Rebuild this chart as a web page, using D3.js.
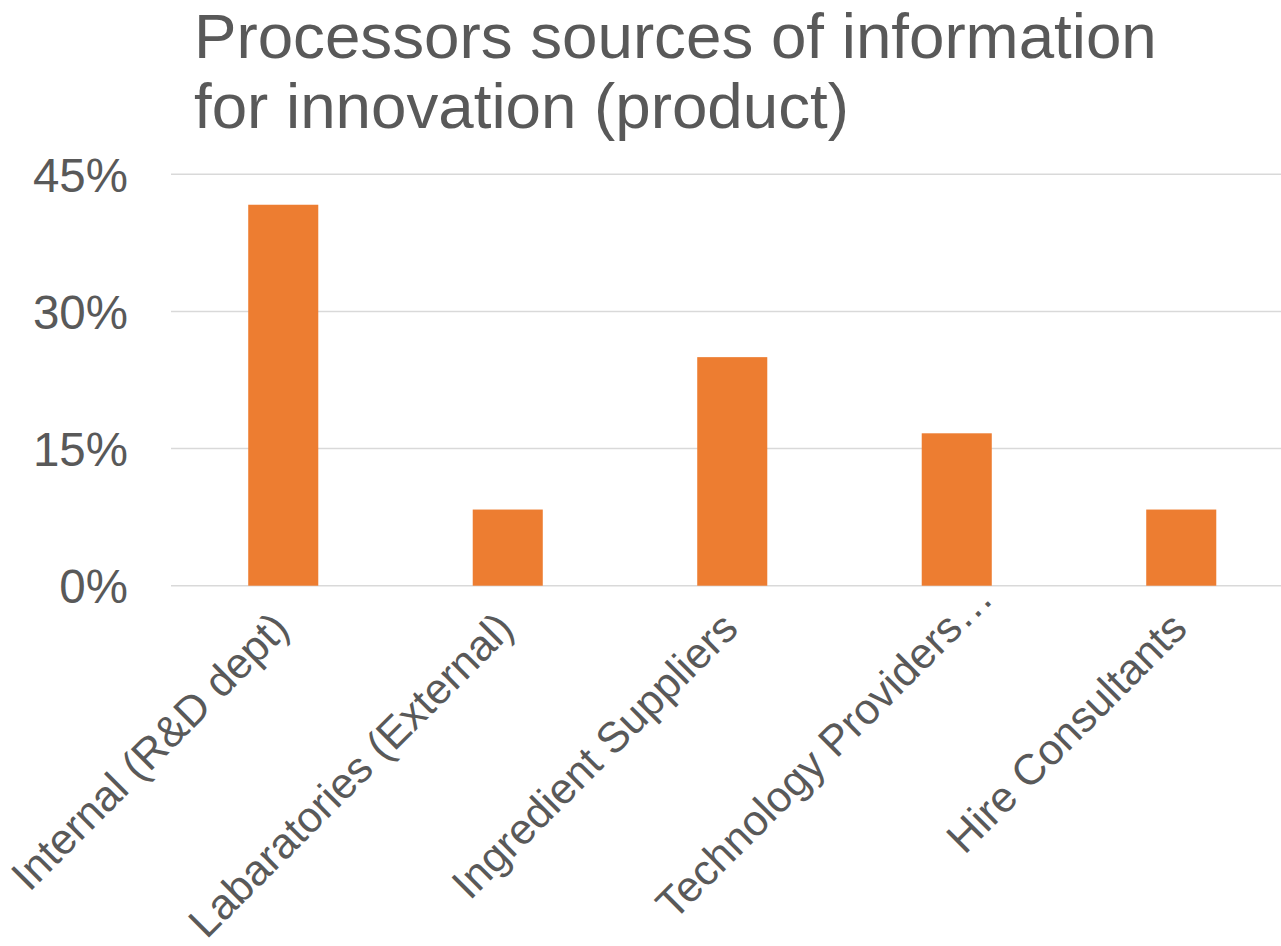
<!DOCTYPE html>
<html>
<head>
<meta charset="utf-8">
<script src="https://cdn.jsdelivr.net/npm/d3@7"></script>
<style>
  html, body { margin: 0; padding: 0; background: #ffffff; }
  svg { display: block; }
  text { font-family: "Liberation Sans", Arial, sans-serif; fill: #595959; }
</style>
</head>
<body>
<svg id="chart" width="1281" height="946"></svg>
<script>
// ---- data ----
const titleLines = ["Processors sources of information", "for innovation (product)"];
const categories = ["Internal (R&D dept)", "Labaratories (External)", "Ingredient Suppliers", "Technology Providers\u2026", "Hire Consultants"];
const values = [0.4167, 0.0833, 0.25, 0.1667, 0.0833];
const yTicks = [0, 0.15, 0.30, 0.45];

// ---- layout ----
const W = 1281, H = 946;
const plot = { left: 171, right: 1293.5, top: 174.3, bottom: 585.7 };
const svg = d3.select("#chart");

const x = d3.scaleBand().domain(categories).range([plot.left, plot.right])
  .paddingInner(0.688).paddingOuter(0.344);
const y = d3.scaleLinear().domain([0, 0.45]).range([plot.bottom, plot.top]);

// title
svg.append("text")
  .style("font-size", "63.7px")
  .selectAll("tspan").data(titleLines).join("tspan")
  .attr("x", 194).attr("y", (d, i) => 58 + i * 70)
  .text(d => d);

// gridlines
svg.append("g").selectAll("line").data(yTicks).join("line")
  .attr("x1", plot.left).attr("x2", W)
  .attr("y1", d => y(d)).attr("y2", d => y(d))
  .attr("stroke", "#D9D9D9").attr("stroke-width", 1.6);

// y axis labels
const yAxis = d3.axisLeft(y).tickValues(yTicks).tickFormat(d3.format(".0%")).tickSize(0).tickPadding(0);
const yg = svg.append("g").attr("transform", "translate(128,0)").call(yAxis);
yg.select(".domain").remove();
yg.selectAll("text")
  .attr("dy", "0.36em")
  .style("font-size", "47.5px")
  .style("font-family", "\"Liberation Sans\", Arial, sans-serif")
  .attr("fill", "#595959");

// bars
svg.append("g").selectAll("rect").data(values).join("rect")
  .attr("x", (d, i) => x(categories[i]))
  .attr("width", x.bandwidth())
  .attr("y", d => y(d))
  .attr("height", d => y(0) - y(d))
  .attr("fill", "#ED7D31");

// category labels, rotated -45deg, end anchored at tick (ellipsis overflows)
const labelSize = 43;
const tmp = svg.append("text").style("font-size", labelSize + "px").text("\u2026");
const ellW = tmp.node().getComputedTextLength();
tmp.remove();

const xAxis = d3.axisBottom(x).tickSize(0).tickPadding(0);
const xg = svg.append("g").attr("transform", `translate(0,${plot.bottom})`).call(xAxis);
xg.select(".domain").remove();
xg.selectAll(".tick text")
  .style("font-size", labelSize + "px")
  .style("font-family", "\"Liberation Sans\", Arial, sans-serif")
  .attr("fill", "#595959")
  .attr("text-anchor", "end")
  .attr("dy", null)
  .attr("y", 0)
  .attr("x", d => d.endsWith("\u2026") ? ellW : 0)
  .attr("transform", "translate(8,45) rotate(-45)");
</script>
</body>
</html>
